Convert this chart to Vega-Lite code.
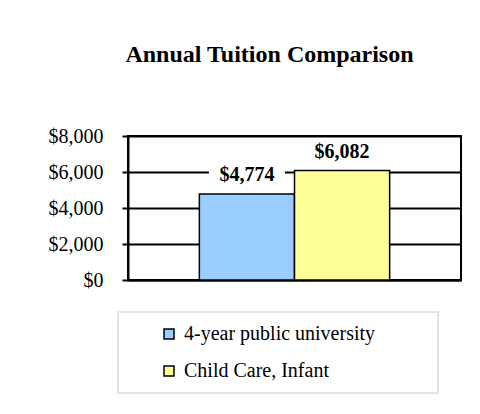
{
  "$schema": "https://vega.github.io/schema/vega-lite/v6.json",
  "width": 333,
  "height": 144,
  "autosize": {"type": "none"},
  "padding": {"left": 128, "top": 136, "right": 19, "bottom": 134},
  "background": "white",
  "title": {
    "text": "Annual Tuition Comparison",
    "font": "Liberation Serif",
    "fontSize": 24,
    "fontWeight": "bold",
    "color": "black",
    "anchor": "middle",
    "frame": "group",
    "baseline": "alphabetic",
    "dx": -25,
    "offset": 40
  },
  "data": {
    "values": [
      {"category": "4-year public university", "tuition": 4774},
      {"category": "Child Care, Infant", "tuition": 6082}
    ]
  },
  "encoding": {
    "x": {
      "field": "category",
      "type": "nominal",
      "sort": null,
      "scale": {"paddingInner": 0, "paddingOuter": 0.75},
      "axis": {
        "labels": false,
        "ticks": false,
        "title": null,
        "grid": false,
        "domainColor": "black",
        "domainWidth": 2
      }
    },
    "y": {
      "field": "tuition",
      "type": "quantitative",
      "scale": {"domain": [0, 8000], "nice": false},
      "axis": {
        "values": [0, 2000, 4000, 6000, 8000],
        "format": "$,.0f",
        "title": null,
        "grid": true,
        "gridColor": "black",
        "gridWidth": 2,
        "gridOpacity": 1,
        "domainColor": "black",
        "domainWidth": 2,
        "tickColor": "black",
        "tickWidth": 2,
        "tickSize": 6,
        "labelFont": "Liberation Serif",
        "labelFontSize": 20,
        "labelColor": "black",
        "labelPadding": 19
      }
    }
  },
  "layer": [
    {
      "mark": {"type": "bar", "stroke": "black", "strokeWidth": 1.5},
      "encoding": {
        "color": {
          "field": "category",
          "type": "nominal",
          "sort": null,
          "scale": {"range": ["#99ccff", "#ffff99"]},
          "legend": {
            "orient": "none",
            "legendX": -10,
            "legendY": 176,
            "title": null,
            "direction": "vertical",
            "symbolType": "square",
            "symbolSize": 100,
            "symbolStrokeColor": "black",
            "symbolStrokeWidth": 1.5,
            "symbolOpacity": 1,
            "symbolOffset": 29,
            "labelOffset": 5,
            "labelFont": "Liberation Serif",
            "labelFontSize": 20,
            "labelColor": "black",
            "labelLimit": 500,
            "labelExpr": "datum.label + '\u2003\u2003\u2002\u200b'",
            "strokeColor": "#e3e3e3",
            "padding": 12,
            "rowPadding": 17
          }
        }
      }
    },
    {
      "mark": {
        "type": "point",
        "shape": "M-1,-0.26H1V0.26H-1Z",
        "filled": true,
        "fill": "white",
        "strokeWidth": 0,
        "opacity": 1,
        "size": 5776,
        "yOffset": -20
      }
    },
    {
      "mark": {
        "type": "text",
        "font": "Liberation Serif",
        "fontSize": 20,
        "fontWeight": "bold",
        "color": "black",
        "baseline": "alphabetic",
        "dy": -13
      },
      "encoding": {
        "text": {"field": "tuition", "type": "quantitative", "format": "$,"}
      }
    }
  ],
  "config": {
    "view": {"stroke": "black", "strokeWidth": 2},
    "legend": {"strokeWidth": 2}
  }
}
